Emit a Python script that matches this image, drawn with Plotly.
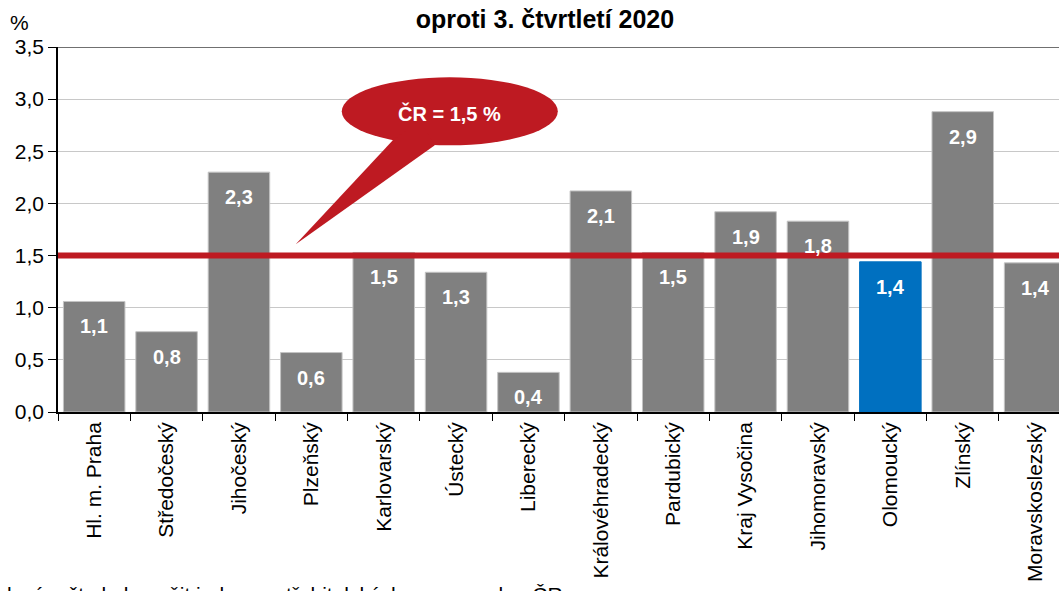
import plotly.graph_objects as go

# ---- data ----
categories = ["Hl. m. Praha", "Středočeský", "Jihočeský", "Plzeňský", "Karlovarský",
              "Ústecký", "Liberecký", "Královéhradecký", "Pardubický", "Kraj Vysočina",
              "Jihomoravský", "Olomoucký", "Zlínský", "Moravskoslezský"]
values = [1.06, 0.77, 2.30, 0.57, 1.53, 1.34, 0.38, 2.12, 1.53, 1.92, 1.83, 1.44, 2.88, 1.43]
value_labels = ["1,1", "0,8", "2,3", "0,6", "1,5", "1,3", "0,4", "2,1", "1,5", "1,9",
                "1,8", "1,4", "2,9", "1,4"]
cr_value = 1.5
highlight = "Olomoucký"
y_tickvals = [0.0, 0.5, 1.0, 1.5, 2.0, 2.5, 3.0, 3.5]
title_text = "oproti 3. čtvrtletí 2020"
y_unit = "%"
footnote = "k výpočtu byl použit index spotřebitelských cen za celou ČR"

FONT = "Liberation Sans, Arial, sans-serif"
GRAY = "#808080"
BLUE = "#0070C0"
RED = "#BE1A22"

bar_colors = [BLUE if c == highlight else GRAY for c in categories]
line_colors = [BLUE if c == highlight else "#C4C4C4" for c in categories]

fig = go.Figure()
fig.add_trace(go.Bar(
    x=categories, y=values,
    marker=dict(color=bar_colors, line=dict(color=line_colors, width=1)),
    width=0.85,
    hoverinfo="skip",
))

annotations = []
for c, v, t in zip(categories, values, value_labels):
    annotations.append(dict(
        x=c, y=v, xref="x", yref="y", text=f"<b>{t}</b>", showarrow=False,
        yanchor="middle", yshift=-25,
        font=dict(family=FONT, size=20, color="white"),
    ))

cr_text = "ČR = " + f"{cr_value:.1f}".replace(".", ",") + " %"
annotations.append(dict(
    x=0.3914, y=0.8184, xref="paper", yref="paper", text=f"<b>{cr_text}</b>",
    showarrow=False, xanchor="center", yanchor="middle",
    font=dict(family=FONT, size=20, color="white"),
))
annotations.append(dict(
    x=-0.0383, y=1.068, xref="paper", yref="paper", text=y_unit,
    showarrow=False, xanchor="center", yanchor="middle",
    font=dict(family=FONT, size=21, color="black"),
))
annotations.append(dict(
    x=-0.0533, y=-0.4995, xref="paper", yref="paper", text=footnote,
    showarrow=False, xanchor="left", yanchor="middle",
    font=dict(family=FONT, size=21, color="black"),
))

shapes = [
    # top border line at max of axis
    dict(type="line", xref="paper", yref="y", x0=0, x1=1, y0=y_tickvals[-1], y1=y_tickvals[-1],
         line=dict(color="#404040", width=1.5), layer="above"),
    # ČR reference line
    dict(type="line", xref="paper", yref="y", x0=0, x1=1, y0=cr_value, y1=cr_value,
         line=dict(color=RED, width=6), layer="above"),
    # callout bubble
    dict(type="circle", xref="paper", yref="paper", x0=0.2835, x1=0.4993, y0=0.7307, y1=0.917,
         fillcolor=RED, line=dict(width=0), layer="above"),
    dict(type="path", xref="paper", yref="paper",
         path="M 0.2375,0.4595 L 0.3345,0.7444 L 0.3614,0.7992 L 0.3764,0.7307 Z",
         fillcolor=RED, line=dict(width=0), layer="above"),
]

fig.update_layout(
    width=1059, height=591,
    margin=dict(l=58, r=0, t=47, b=179, pad=0),
    paper_bgcolor="white", plot_bgcolor="white",
    font=dict(family=FONT, size=21, color="black"),
    separators=", ",
    showlegend=False,
    title=dict(text=f"<b>{title_text}</b>", x=0.5146, y=0.9679, xref="container", yref="container",
               xanchor="center", yanchor="middle", font=dict(family=FONT, size=25, color="black")),
    xaxis=dict(
        type="category", range=[-0.5, 13.33], tickson="boundaries",
        ticks="outside", ticklen=7, tickwidth=1, tickcolor="black",
        showline=True, linecolor="black", linewidth=1.5,
        tickangle=-90, tickfont=dict(family=FONT, size=21, color="black"),
        showgrid=False, automargin=False,
    ),
    yaxis=dict(
        range=[0, 3.5], tickvals=y_tickvals, tickformat=".1f",
        ticks="outside", ticklen=8, tickwidth=1, tickcolor="black",
        showline=True, linecolor="black", linewidth=1.5,
        gridcolor="#C8C8C8", gridwidth=1, zeroline=False,
        tickfont=dict(family=FONT, size=21, color="black"), automargin=False,
    ),
    annotations=annotations,
    shapes=shapes,
)

fig.write_html("out.html", config={"displayModeBar": False},
               post_script="document.body.style.margin='0';document.body.style.overflow='hidden';")
